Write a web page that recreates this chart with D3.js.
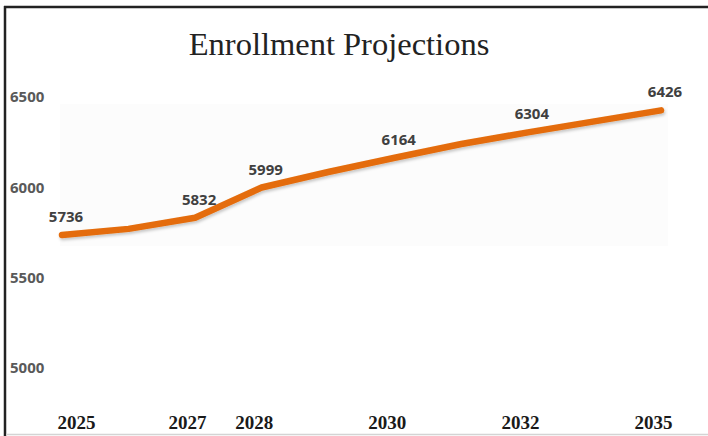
<!DOCTYPE html>
<html>
<head>
<meta charset="utf-8">
<script src="https://cdn.jsdelivr.net/npm/d3@7"></script>
<style>
  html, body { margin: 0; padding: 0; background: #fff; }
  svg { display: block; }
</style>
</head>
<body>
<svg id="chart"></svg>
<script>
// data
const points = ["p0", "p1", "p2", "p3", "p4", "p5", "p6", "p7", "p8", "p9"];
const enrollment = [5736, 5770, 5832, 5999, 6085, 6164, 6240, 6304, 6365, 6426];
const yearLabels = ["2025", "", "2027", "2028", "", "2030", "", "2032", "", "2035"];
const shownValues = [true, false, true, true, false, true, false, true, false, true];
const yTicks = [5000, 5500, 6000, 6500];

const W = 708, H = 436;

const svg = d3.select("#chart").attr("width", W).attr("height", H);

const defs = svg.append("defs");
const shadow = defs.append("filter").attr("id", "shadow")
  .attr("x", "-10%").attr("y", "-50%").attr("width", "120%").attr("height", "200%");
shadow.append("feDropShadow")
  .attr("dx", 1).attr("dy", 2).attr("stdDeviation", 1.5)
  .attr("flood-color", "#000").attr("flood-opacity", 0.22);

// frame
svg.append("line").attr("x1", 5).attr("x2", 5).attr("y1", 6).attr("y2", H)
  .attr("stroke", "#222").attr("stroke-width", 2.5);
svg.append("line").attr("x1", 4).attr("x2", W).attr("y1", 7).attr("y2", 7)
  .attr("stroke", "#222").attr("stroke-width", 2.5);
svg.append("line").attr("x1", 6).attr("x2", W).attr("y1", 434.5).attr("y2", 434.5)
  .attr("stroke", "#d4d4d4").attr("stroke-width", 1.5);

// faint plot panel
svg.append("rect").attr("x", 60).attr("y", 104).attr("width", 608).attr("height", 142)
  .attr("fill", "#fcfcfc");

const x = d3.scalePoint().domain(points).range([62, 661]);
const y = d3.scaleLinear().domain([5000, 6500]).range([368, 97]);

// title
svg.append("text")
  .attr("x", 339).attr("y", 55)
  .attr("text-anchor", "middle")
  .attr("font-family", "'Liberation Serif', serif")
  .attr("font-size", 32.5)
  .attr("fill", "#222")
  .text("Enrollment Projections");

// y axis (labels only)
const yAxis = d3.axisLeft(y).tickValues(yTicks).tickFormat(d3.format("d"))
  .tickSize(0).tickPadding(0);
const gy = svg.append("g").attr("transform", "translate(10,0)").call(yAxis);
gy.select(".domain").remove();
gy.selectAll("text")
  .attr("text-anchor", "start")
  .attr("font-family", "'Open Sans', sans-serif")
  .attr("font-weight", "bold")
  .attr("font-size", 15)
  .attr("fill", "#595959");

// x axis (labels only)
const xAxis = d3.axisBottom(x).tickSize(0).tickPadding(0)
  .tickFormat((d, i) => yearLabels[i]);
const gx = svg.append("g").attr("transform", "translate(0,412)").call(xAxis);
gx.select(".domain").remove();
gx.selectAll("text")
  .attr("dy", 0)
  .attr("y", 17)
  .attr("x", (d, i) => (i === 0 ? -5 : -8))
  .attr("text-anchor", (d, i) => (i === 0 ? "start" : "middle"))
  .attr("font-family", "'Liberation Serif', serif")
  .attr("font-weight", "bold")
  .attr("font-size", 19)
  .attr("fill", "#1a1a1a");

// line
const line = d3.line()
  .x((d, i) => x(points[i]))
  .y(d => y(d));

svg.append("path")
  .datum(enrollment)
  .attr("d", line)
  .attr("fill", "none")
  .attr("stroke", "#E46C0A")
  .attr("stroke-width", 6.5)
  .attr("stroke-linecap", "round")
  .attr("stroke-linejoin", "round")
  .attr("filter", "url(#shadow)");

// data labels
svg.selectAll(".val")
  .data(enrollment.map((v, i) => ({ v, i })).filter(d => shownValues[d.i]))
  .enter()
  .append("text")
  .attr("class", "val")
  .attr("x", d => x(points[d.i]) + 4)
  .attr("y", d => y(d.v) - 13)
  .attr("text-anchor", "middle")
  .attr("font-family", "'Open Sans', sans-serif")
  .attr("font-weight", "bold")
  .attr("font-size", 15)
  .attr("fill", "#404040")
  .text(d => d.v);
</script>
</body>
</html>
